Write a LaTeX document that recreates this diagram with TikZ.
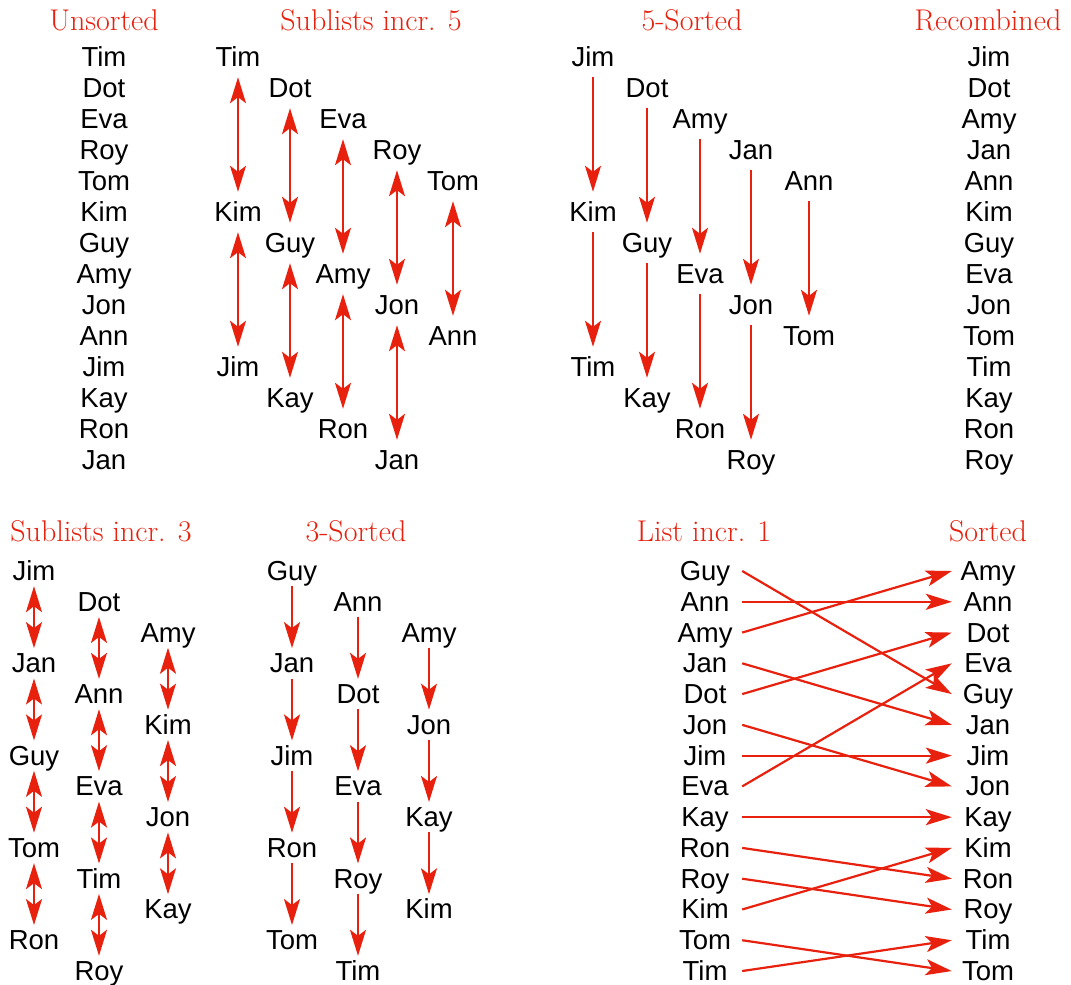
\documentclass[tikz,border=0pt]{standalone}
\usepackage{fontspec}
\newfontfamily\namefont{Liberation Sans}
\usetikzlibrary{arrows.meta}
\definecolor{sortred}{RGB}{232,32,14}

\begin{document}
\begin{tikzpicture}[x=1pt, y=-1pt,
    >={Stealth[length=26pt,width=16pt,inset=6pt]},
    heading/.style={text=sortred, font=\fontsize{30}{32}\selectfont, anchor=base},
    person/.style={font=\namefont\fontsize{27.5}{30}\selectfont, text height=19pt, text depth=0pt, minimum height=40pt, inner sep=0pt},
    swaparrow/.style={draw=sortred, line width=2.2pt, <->},
    movearrow/.style={draw=sortred, line width=2.2pt, ->},
    closer/.style={shorten <=-5pt, shorten >=-5pt}
]
\useasboundingbox (0,0) rectangle (1071,985);

% Titles
\node[heading] (tu) at (104, 30) {Unsorted};
\node[heading] (ts5) at (371, 30) {Sublists incr. 5};
\node[heading] (tf5) at (692, 30) {5-Sorted};
\node[heading] (tr) at (988, 30) {Recombined};
\node[heading] (ts3) at (101, 541) {Sublists incr. 3};
\node[heading] (tf3) at (356, 541) {3-Sorted};
\node[heading] (tl1) at (704, 541) {List incr. 1};
\node[heading] (to) at (988, 541) {Sorted};

% Top row: unsorted and sublists with increment 5
\foreach \n [count=\i] in {Tim,Dot,Eva,Roy,Tom,Kim,Guy,Amy,Jon,Ann,Jim,Kay,Ron,Jan} {
  \node[person] (u\i) at (104, 57+31*\i-31) {\n};
  \pgfmathsetmacro\cx{{238,290,343,397,453}[mod(\i-1,5)]}
  \node[person] (s\i) at (\cx, 57+31*\i-31) {\n};
}
\foreach \n [count=\i] in {Jim,Dot,Amy,Jan,Ann,Kim,Guy,Eva,Jon,Tom,Tim,Kay,Ron,Roy} {
  \pgfmathsetmacro\cx{{593,647,700,751,809}[mod(\i-1,5)]}
  \node[person] (f\i) at (\cx, 57+31*\i-31) {\n};
  \node[person] (r\i) at (989, 57+31*\i-31) {\n};
}
\foreach \i [evaluate=\i as \j using int(\i+5)] in {1,...,9} {
  \draw[swaparrow] (s\i) -- (s\j);
  \draw[movearrow] (f\i) -- (f\j);
}

% Bottom row: sublists with increment 3
\foreach \n [count=\i] in {Jim,Dot,Amy,Jan,Ann,Kim,Guy,Eva,Jon,Tom,Tim,Kay,Ron,Roy} {
  \pgfmathsetmacro\cx{{34,99,168}[mod(\i-1,3)]}
  \node[person] (a\i) at (\cx, 571+30.77*\i-30.77) {\n};
}
\foreach \n [count=\i] in {Guy,Ann,Amy,Jan,Dot,Jon,Jim,Eva,Kay,Ron,Roy,Kim,Tom,Tim} {
  \pgfmathsetmacro\cx{{292,358,429}[mod(\i-1,3)]}
  \node[person] (b\i) at (\cx, 571+30.77*\i-30.77) {\n};
  \node[person, minimum width=74pt] (l\i) at (705, 571+30.77*\i-30.77) {\n};
}
\foreach \n [count=\i] in {Amy,Ann,Dot,Eva,Guy,Jan,Jim,Jon,Kay,Kim,Ron,Roy,Tim,Tom}
  \node[person, minimum width=72pt] (o\i) at (988, 571+30.77*\i-30.77) {\n};
\foreach \i [evaluate=\i as \j using int(\i+3)] in {1,...,11} {
  \draw[swaparrow, closer] (a\i) -- (a\j);
  \draw[movearrow, closer] (b\i) -- (b\j);
}

% Final insertion pass
\foreach \i/\j in {1/5,2/2,3/1,4/6,5/3,6/8,7/7,8/4,9/9,10/11,11/12,12/10,13/14,14/13}
  \draw[movearrow] (l\i.east) -- (o\j.west);

\end{tikzpicture}
\end{document}
